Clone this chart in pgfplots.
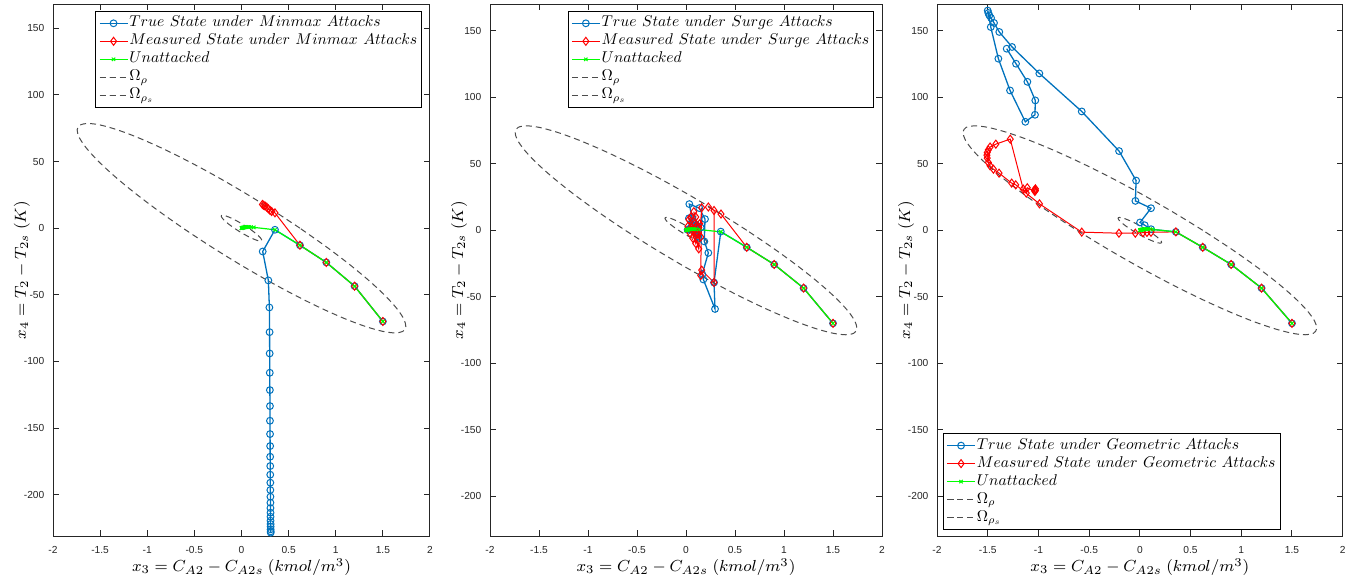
\RequirePackage{fix-cm}
\documentclass[border=0pt]{standalone}
\usepackage{fontspec}
\setmainfont{Liberation Sans}
\usepackage{graphicx}
\usepackage{pgfplots}
\pgfplotsset{compat=1.18}

\definecolor{mblue}{rgb}{0,0.447,0.741}
\definecolor{axgray}{rgb}{0.15,0.15,0.15}
\definecolor{ellgray}{rgb}{0.3,0.3,0.3}

\pgfplotsset{
  panel/.style={
    scale only axis, height=265.85pt,
    xmin=-2, xmax=2,
    xtick={-2,-1.5,-1,-0.5,0,0.5,1,1.5,2},
    ytick={-200,-150,-100,-50,0,50,100,150},
    tick align=inside, major tick length=2.8pt,
    axis line style={axgray, line width=0.5pt},
    every tick/.style={axgray, line width=0.5pt},
    tick label style={font=\fontsize{5.1}{6}\selectfont, text=axgray},
    /pgf/number format/assume math mode=true,
    xticklabel style={yshift=-1.6pt},
    yticklabel style={xshift=-0.8pt},
    xlabel={$x_3 = C_{A2} - C_{A2s}\ (kmol/m^3)$},
    ylabel={$x_4 = T_2 - T_{2s}\ (K)$},
    label style={font=\fontsize{8}{10}\selectfont},
    xlabel style={at={([yshift=-15.5pt]axis description cs:0.5,0)}, anchor=center},
    ylabel style={at={([xshift=-15.5pt]axis description cs:0,0.5)}, anchor=center},
    legend cell align=left,
    legend style={font=\fontsize{10}{12}\selectfont, draw=black, line width=0.4pt,
      fill=white, inner xsep=1.5pt, inner ysep=1.5pt, row sep=0pt,
      nodes={inner sep=0.6pt, text height=5.6pt, text depth=2.2pt}},
    legend image code/.code={\draw[mark repeat=2,mark phase=2,#1]
      plot coordinates {(0pt,0pt) (7pt,0pt) (14pt,0pt)};},
  },
  truestate/.style={mblue, line width=0.65pt, mark=o, mark size=1.7pt,
    mark options={solid, line width=0.5pt}},
  measured/.style={red, line width=0.5pt, mark=diamond, mark size=2pt,
    mark options={solid, line width=0.5pt}},
  unattacked/.style={green, line width=0.6pt, mark=x, mark size=1.2pt,
    mark options={solid, line width=0.5pt}},
  region/.style={ellgray, line width=0.5pt, dash pattern=on 3pt off 2pt,
    smooth, no markers},
}

% legend entries: math italic set at 10pt and reduced
\newcommand{\leg}[1]{\scalebox{0.78}{$#1$}}
% gap between the words of a legend entry
\newcommand{\ws}{\hskip 3.5pt}

% state trajectory without attack
\def\unattacked{(1.5,-70) (1.2,-43.5) (0.9,-25.7) (0.62,-12.8) (0.355,-1.2)
  (0.13,0.6) (0.1,0.8) (0.08,0.9) (0.065,0.9) (0.052,0.85) (0.042,0.8)
  (0.034,0.7) (0.027,0.6) (0.021,0.5) (0.016,0.4) (0.012,0.3) (0.009,0.25)
  (0.006,0.2) (0.004,0.1) (0.002,0.05) (0,0)}

% boundary of the stability region Omega_rho
\def\omegarho{(0.62,0) (0.3276,13.65) (0.0251,26.88) (-0.2781,39.3) (-0.5729,50.52)
  (-0.8501,60.21) (-1.1016,68.07) (-1.3197,73.86) (-1.4976,77.41) (-1.63,78.6)
  (-1.7128,77.41) (-1.7437,73.86) (-1.7216,68.07) (-1.6471,60.21) (-1.5227,50.52)
  (-1.3519,39.3) (-1.1401,26.88) (-0.8936,13.65) (-0.62,0) (-0.3276,-13.65)
  (-0.0251,-26.88) (0.2781,-39.3) (0.5729,-50.52) (0.8501,-60.21) (1.1016,-68.07)
  (1.3197,-73.86) (1.4976,-77.41) (1.63,-78.6) (1.7128,-77.41) (1.7437,-73.86)
  (1.7216,-68.07) (1.6471,-60.21) (1.5227,-50.52) (1.3519,-39.3) (1.1401,-26.88)
  (0.8936,-13.65) (0.62,0)}

% boundary of the smaller region Omega_rho_s
\def\omegarhos{(0.0763,0) (0.0403,1.679) (0.0031,3.306) (-0.0342,4.834) (-0.0705,6.214)
  (-0.1046,7.406) (-0.1355,8.373) (-0.1623,9.085) (-0.1842,9.521) (-0.2005,9.668)
  (-0.2107,9.521) (-0.2145,9.085) (-0.2118,8.373) (-0.2026,7.406) (-0.1873,6.214)
  (-0.1663,4.834) (-0.1402,3.306) (-0.1099,1.679) (-0.0763,0) (-0.0403,-1.679)
  (-0.0031,-3.306) (0.0342,-4.834) (0.0705,-6.214) (0.1046,-7.406) (0.1355,-8.373)
  (0.1623,-9.085) (0.1842,-9.521) (0.2005,-9.668) (0.2107,-9.521) (0.2145,-9.085)
  (0.2118,-8.373) (0.2026,-7.406) (0.1873,-6.214) (0.1663,-4.834) (0.1402,-3.306)
  (0.1099,-1.679) (0.0763,0)}

\begin{document}
\begin{tikzpicture}
\path[use as bounding box] (0,0) rectangle (677pt,293pt);

% ---------------- Minmax attacks ----------------
\begin{axis}[panel, at={(26.5pt,25pt)}, width=188.5pt, ymin=-231, ymax=168,
  legend style={at={(1,1)}, anchor=north east, xshift=-4pt, yshift=-3.3pt}]
\addplot[truestate] coordinates {(1.5,-70) (1.2,-43.5) (0.9,-25.7) (0.62,-12.8)
  (0.355,-1.2) (0.225,-17.5) (0.285,-39.2) (0.296,-59.5) (0.298,-78) (0.299,-94)
  (0.3,-108.5) (0.301,-121.5) (0.302,-133.5) (0.302,-144.5) (0.303,-154.5)
  (0.304,-163.5) (0.304,-171.5) (0.305,-178.5) (0.305,-185) (0.306,-191)
  (0.306,-196.5) (0.307,-201.5) (0.307,-206) (0.307,-210) (0.308,-213.5)
  (0.308,-216.5) (0.308,-219.5) (0.309,-222) (0.309,-224) (0.309,-226)
  (0.31,-227.5) (0.31,-228.5)};
\addlegendentry{\leg{True\ws State\ws under\ws Minmax\ws Attacks}}
\addplot[measured] coordinates {(1.5,-70) (1.2,-43.5) (0.9,-25.7) (0.62,-12.8)
  (0.355,11.5) (0.32,12.5) (0.303,13.3) (0.285,14.5) (0.268,15.8) (0.25,16.6)
  (0.235,17.2) (0.222,17.8)};
\addlegendentry{\leg{Measured\ws State\ws under\ws Minmax\ws Attacks}}
\addplot[unattacked] coordinates {\unattacked};
\addlegendentry{\leg{Unattacked}}
\addplot[region] coordinates {\omegarho};
\addlegendentry{\leg{\Omega_\rho}}
\addplot[region] coordinates {\omegarhos};
\addlegendentry{\leg{\Omega_{\rho_s}}}
\end{axis}

% ---------------- Surge attacks ----------------
\begin{axis}[panel, at={(245pt,25pt)}, width=196pt, ymin=-230, ymax=170,
  legend style={at={(1,1)}, anchor=north east, xshift=-4pt, yshift=-3.3pt}]
\addplot[truestate] coordinates {(1.5,-70) (1.2,-43.5) (0.9,-25.7) (0.62,-12.8)
  (0.355,-1) (0.286,-39.3) (0.296,-59.2) (0.177,-37) (0.166,-33) (0.228,-17)
  (0.187,-8.4) (0.194,8.4) (0.136,16.7) (0.034,19.7) (0.06,10) (0.017,0.4)
  (0.126,-4.7) (0.15,2) (0.08,6) (0.03,9) (0.1,4) (0.05,2) (0.07,0.5)
  (0.04,1) (0.03,0.5)};
\addlegendentry{\leg{True\ws State\ws under\ws Surge\ws Attacks}}
\addplot[measured] coordinates {(1.5,-70) (1.2,-43.5) (0.9,-25.7) (0.62,-12.8)
  (0.357,12.2) (0.228,17.5) (0.286,14.9) (0.286,-39.3) (0.16,-30) (0.15,-34)
  (0.16,17) (0.13,-14) (0.05,10) (0.14,5) (0.1,-10) (0.03,8) (0.15,-5)
  (0.08,14) (0.12,-3) (0.02,3) (0.1,10) (0.07,-6) (0.13,2) (0.04,-2)
  (0.09,5) (0.06,0) (0.11,-1) (0.05,2) (0.08,1)};
\addlegendentry{\leg{Measured\ws State\ws under\ws Surge\ws Attacks}}
\addplot[unattacked] coordinates {\unattacked};
\addlegendentry{\leg{Unattacked}}
\addplot[region] coordinates {\omegarho};
\addlegendentry{\leg{\Omega_\rho}}
\addplot[region] coordinates {\omegarhos};
\addlegendentry{\leg{\Omega_{\rho_s}}}
\end{axis}

% ---------------- Geometric attacks ----------------
\begin{axis}[panel, at={(468.5pt,25pt)}, width=202.85pt, ymin=-230, ymax=170,
  legend style={at={(0,0)}, anchor=south west, xshift=3pt, yshift=3pt}]
\addplot[truestate] coordinates {(1.5,-70) (1.2,-43.5) (0.9,-25.7) (0.62,-12.8)
  (0.355,-1.2) (0.11,0.8) (0.048,3.8) (0.002,5.9) (0.11,16.6) (-0.044,22.1)
  (-0.037,37.4) (-0.205,59.6) (-0.573,89.4) (-0.991,118) (-1.26,137.9)
  (-1.386,149.2) (-1.438,156) (-1.467,159.7) (-1.484,161.7) (-1.494,163.5)
  (-1.5,165.3) (-1.47,152.9) (-1.395,129.1) (-1.28,105.2) (-1.129,81.6)
  (-1.034,86.9) (-1.031,97.7) (-1.109,111.7) (-1.221,125.3) (-1.313,136.6)};
\addlegendentry{\leg{True\ws State\ws under\ws Geometric\ws Attacks}}
\addplot[measured] coordinates {(1.5,-70) (1.2,-43.5) (0.9,-25.7) (0.62,-12.8)
  (0.355,-1.2) (0.11,-1.5) (0.07,-1.6) (0.03,-1.8) (-0.045,-2.2) (-0.206,-2.2)
  (-0.573,-1.4) (-0.99,19.9) (-1.224,34.2) (-1.264,35.5) (-1.388,43)
  (-1.444,46) (-1.477,48.5) (-1.494,51) (-1.505,54.3) (-1.508,56.5)
  (-1.505,58.5) (-1.494,60.5) (-1.477,62.6) (-1.42,64.8) (-1.278,68.6)
  (-1.15,31) (-1.12,28) (-1.11,32) (-1.035,29.2) (-1.03,31.2) (-1.04,30.2)
  (-1.03,30)};
\addlegendentry{\leg{Measured\ws State\ws under\ws Geometric\ws Attacks}}
\addplot[unattacked] coordinates {\unattacked};
\addlegendentry{\leg{Unattacked}}
\addplot[region] coordinates {\omegarho};
\addlegendentry{\leg{\Omega_\rho}}
\addplot[region] coordinates {\omegarhos};
\addlegendentry{\leg{\Omega_{\rho_s}}}
\end{axis}
\end{tikzpicture}
\end{document}
